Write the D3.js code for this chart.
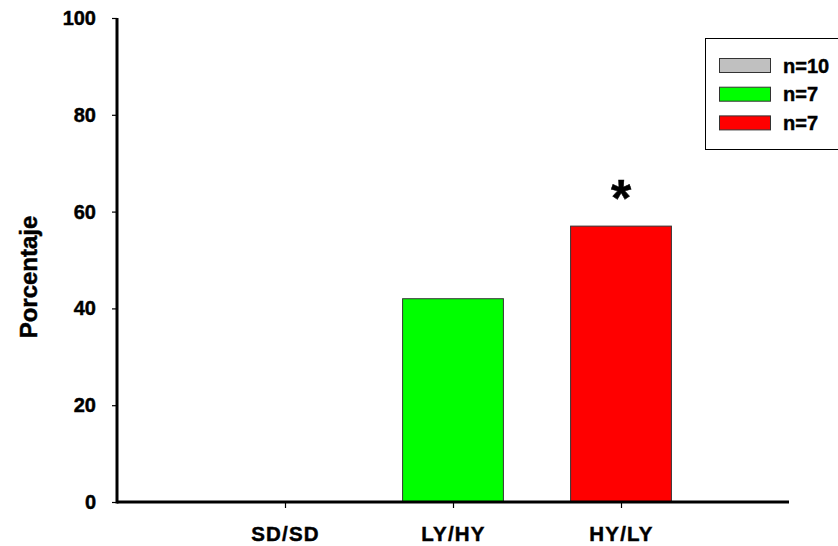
<!DOCTYPE html>
<html>
<head>
<meta charset="utf-8">
<script src="https://cdn.jsdelivr.net/npm/d3@7/dist/d3.min.js"></script>
<style>
  html, body { margin: 0; padding: 0; background: #fff; }
  svg { display: block; font-family: Arial, "Liberation Sans", Helvetica, sans-serif; font-weight: bold; }
  svg text { stroke: #000; stroke-width: 0.45px; }
</style>
</head>
<body>
<svg id="chart" width="838" height="546"></svg>
<script>
// Groups and percentage per group
const categories = ["SD/SD", "LY/HY", "HY/LY"];
const values = [0, 42, 57];
const colors = ["#c0c0c0", "#00ff00", "#ff0000"];
const legendLabels = ["n=10", "n=7", "n=7"];
const yTicks = [0, 20, 40, 60, 80, 100];
const significant = [false, false, true];

const svg = d3.select("#chart");

const x = d3.scalePoint().domain(categories).range([117, 789]).padding(1);
const y = d3.scaleLinear().domain([0, 100]).range([502, 18]);
const barW = x.step() * 0.6;

// Bars
svg.append("g").selectAll("rect")
  .data(categories)
  .join("rect")
  .attr("x", d => x(d) - barW / 2)
  .attr("y", (d, i) => y(values[i]))
  .attr("width", barW)
  .attr("height", (d, i) => y(0) - y(values[i]))
  .attr("fill", (d, i) => colors[i])
  .attr("stroke", "#333")
  .attr("stroke-width", 1);

// Significance marker
svg.append("g").selectAll("text")
  .data(categories.filter((d, i) => significant[i]))
  .join("text")
  .attr("x", d => x(d))
  .attr("y", d => y(values[categories.indexOf(d)]) - 10)
  .attr("text-anchor", "middle")
  .attr("font-size", 52)
  .text("*");

// Y axis
const yAxis = svg.append("g")
  .attr("transform", "translate(117,0)")
  .call(d3.axisLeft(y).tickValues(yTicks).tickSize(5).tickPadding(16).tickFormat(d3.format("d")));
yAxis.select(".domain").attr("stroke", "#000").attr("stroke-width", 3)
  .attr("d", `M0,${y(100)}V${y(0) + 1.5}`);
yAxis.selectAll(".tick line").attr("stroke", "#000").attr("stroke-width", 1.2);
yAxis.selectAll(".tick text").attr("font-size", 20).attr("font-weight", "bold").attr("fill", "#000")
  .attr("font-family", "Arial, 'Liberation Sans', sans-serif");

// X axis
const xAxis = svg.append("g")
  .attr("transform", `translate(0,${y(0)})`)
  .call(d3.axisBottom(x).tickSize(6).tickPadding(18));
xAxis.select(".domain").attr("stroke", "#000").attr("stroke-width", 3)
  .attr("d", "M117,0H789");
xAxis.selectAll(".tick line").attr("stroke", "#000").attr("stroke-width", 1.2);
xAxis.selectAll(".tick text").attr("font-size", 20.5).attr("font-weight", "bold").attr("fill", "#000")
  .attr("letter-spacing", "1.2px")
  .attr("font-family", "Arial, 'Liberation Sans', sans-serif");

// Y axis title
svg.append("text")
  .attr("transform", "translate(37,277) rotate(-90)")
  .attr("text-anchor", "middle")
  .attr("font-size", 24)
  .text("Porcentaje");

// Legend
const legend = svg.append("g");
legend.append("rect")
  .attr("x", 705.5).attr("y", 38.5)
  .attr("width", 140).attr("height", 111)
  .attr("fill", "#fff").attr("stroke", "#000").attr("stroke-width", 1);
const items = legend.selectAll("g.item")
  .data(legendLabels)
  .join("g")
  .attr("class", "item")
  .attr("transform", (d, i) => `translate(0,${58 + i * 28.7})`);
items.append("rect")
  .attr("x", 719.5).attr("y", 0.5)
  .attr("width", 51).attr("height", 14)
  .attr("fill", (d, i) => colors[i])
  .attr("stroke", "#333").attr("stroke-width", 1);
items.append("text")
  .attr("x", 783).attr("y", 14.5)
  .attr("font-size", 20)
  .text(d => d);
</script>
</body>
</html>
